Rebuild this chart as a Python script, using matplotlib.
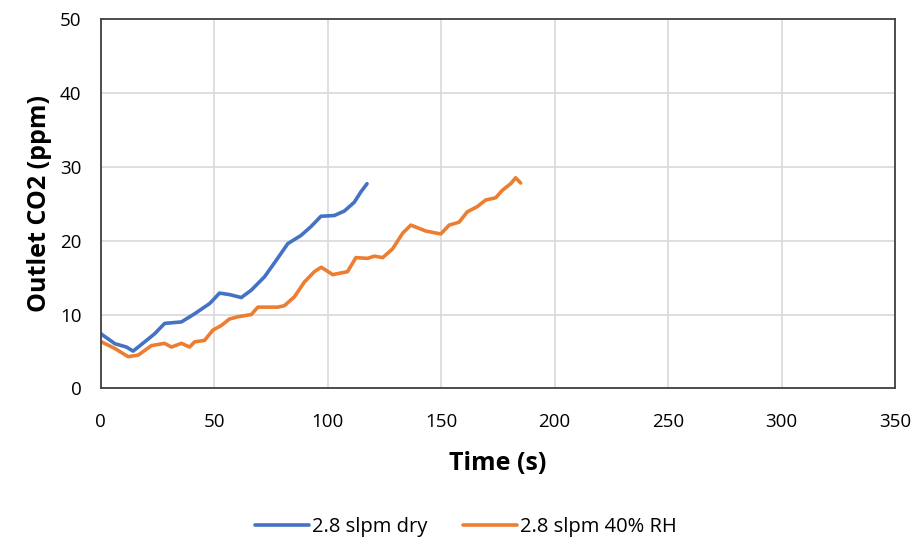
import matplotlib
matplotlib.use("Agg")
import matplotlib.pyplot as plt

plt.rcParams['font.family'] = ['Open Sans', 'DejaVu Sans']

# Outlet CO2 traces
dry_t = [0, 6.2, 11.3, 14.2, 19.3, 23.7, 28.1, 35.5, 41.3, 48, 52.3, 56.7, 61.9,
         66.3, 72.1, 77.2, 82.4, 88.2, 92.6, 97, 102.9, 107.3, 111.7, 114.6, 117.3]
dry_ppm = [7.4, 6.05, 5.6, 5.05, 6.3, 7.4, 8.8, 9.0, 10.1, 11.5, 12.9, 12.7, 12.3,
           13.3, 15.1, 17.3, 19.6, 20.7, 21.9, 23.3, 23.4, 24.0, 25.2, 26.6, 27.7]

rh_t = [0.3, 6.2, 12, 16.4, 22.3, 28.1, 31.1, 35.5, 39.1, 41.3, 45.7, 49.4, 53,
        56.7, 60.4, 66.3, 69.2, 78, 80.9, 85.3, 89.7, 94.1, 97.1, 102.2, 108.7,
        112.4, 117.5, 120.5, 124.2, 128.6, 133, 136.6, 143.2, 149.8, 153.5, 157.9,
        161.5, 165.9, 169.6, 174, 176.9, 180.6, 182.8, 185]
rh_ppm = [6.3, 5.4, 4.3, 4.5, 5.8, 6.1, 5.6, 6.1, 5.6, 6.3, 6.5, 7.9, 8.5,
          9.4, 9.7, 10.0, 11.0, 11.0, 11.2, 12.4, 14.4, 15.8, 16.4, 15.4, 15.8,
          17.7, 17.6, 17.9, 17.7, 18.9, 21.0, 22.1, 21.3, 20.9, 22.1, 22.5,
          23.9, 24.6, 25.5, 25.8, 26.8, 27.7, 28.5, 27.8]

series_labels = ['2.8 slpm dry', '2.8 slpm 40% RH']
x_ticks = [0, 50, 100, 150, 200, 250, 300, 350]
y_ticks = [0, 10, 20, 30, 40, 50]

fig = plt.figure(figsize=(9.17, 5.41), dpi=100)
ax = fig.add_axes([0.110, 0.282, 0.866, 0.683])

ax.plot(dry_t, dry_ppm, color='#4472C4', lw=2.6, label=series_labels[0],
        solid_joinstyle='round', solid_capstyle='round')
ax.plot(rh_t, rh_ppm, color='#ED7D31', lw=2.6, label=series_labels[1],
        solid_joinstyle='round', solid_capstyle='round')

ax.set_xlim(0, 350)
ax.set_ylim(0, 50)
ax.set_xticks(x_ticks)
ax.set_yticks(y_ticks)
ax.grid(True, color='#d9d9d9', lw=1.2)
ax.set_axisbelow(True)
for s in ax.spines.values():
    s.set_color('#404040')
    s.set_linewidth(1.3)
ax.tick_params(length=0, labelsize=13.5, colors='#000000')
ax.tick_params(axis='x', pad=18)
ax.tick_params(axis='y', pad=14)

ax.set_xlabel('Time (s)', fontsize=18, fontweight='bold', labelpad=14)
ax.set_ylabel('Outlet CO2 (ppm)', fontsize=18, fontweight='bold', labelpad=6)

fig.legend(loc='center', bbox_to_anchor=(0.508, 0.026), ncol=2, frameon=False,
           fontsize=14.5, handlelength=2.7, handletextpad=0.15, columnspacing=1.75)

fig.savefig('out.png', dpi=100)
